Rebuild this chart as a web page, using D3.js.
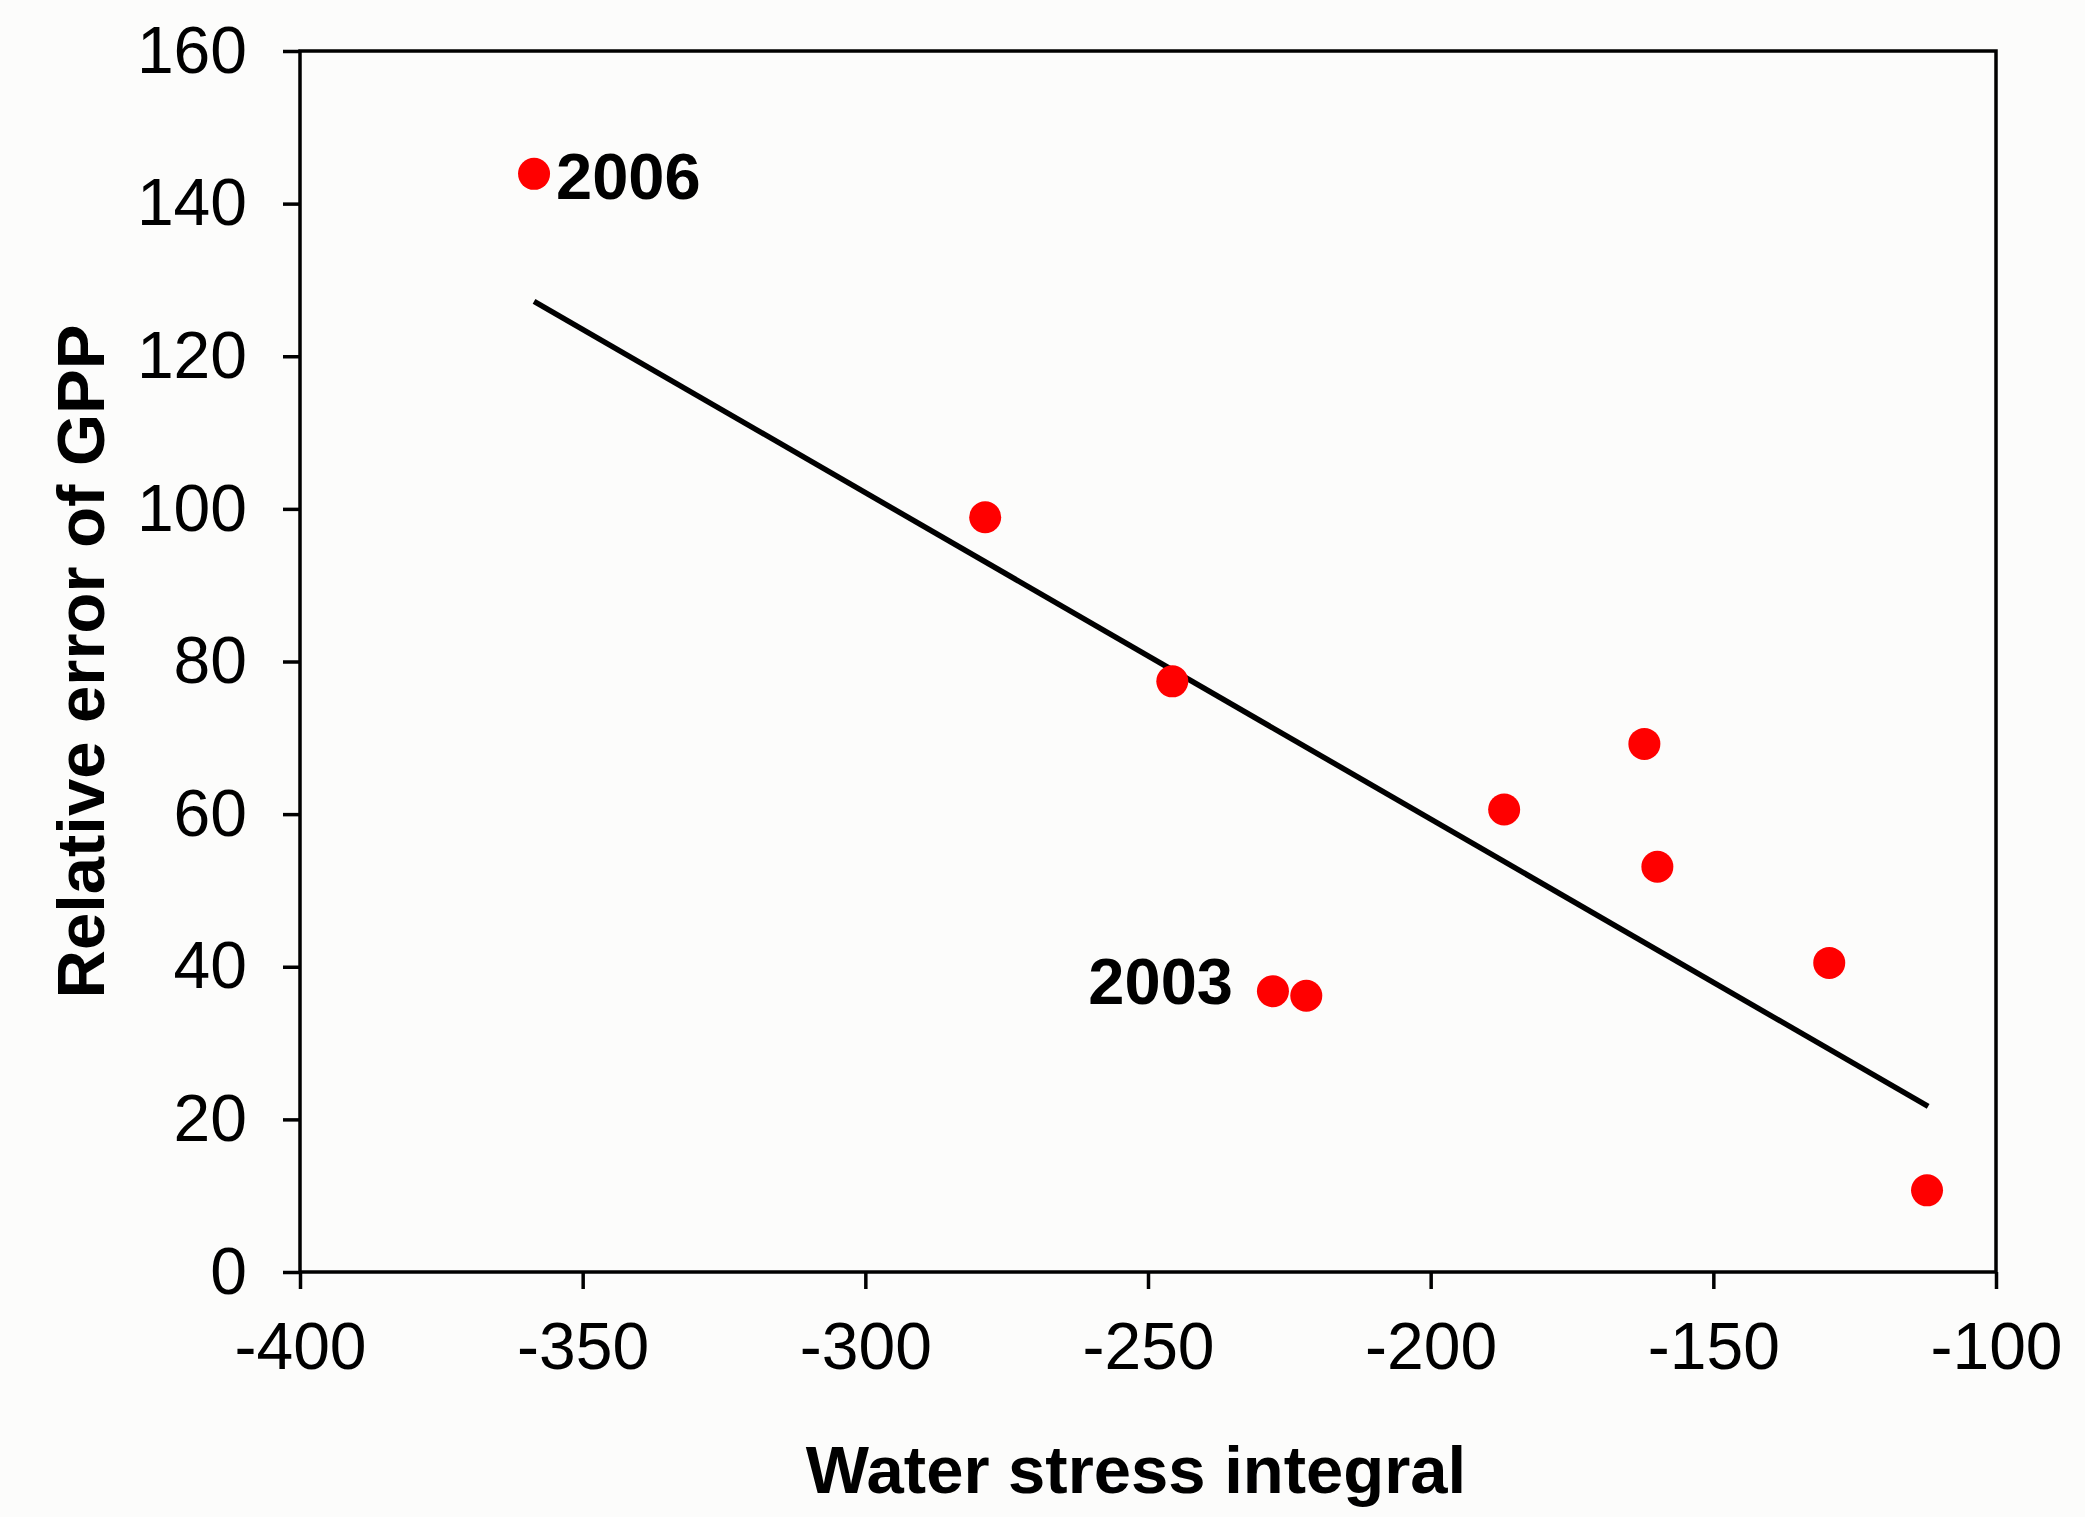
<!DOCTYPE html>
<meta charset="utf-8">
<style>
	body { margin: 0; background: #fcfcfb; }
	text { font-family: Arial, "Liberation Sans", sans-serif; fill: #000; }
	.tick text { font-size: 66px; }
	.title { font-size: 67px; font-weight: bold; }
	.note { font-size: 65px; font-weight: bold; }
</style>
<body>
<script src="https://d3js.org/d3.v7.min.js"></script>
<script>
// water stress integral (x) and relative error of GPP (y)
var stress = [-358.6, -278.8, -245.7, -227.9, -222.0, -187.0, -162.2, -159.9, -129.5, -112.2];
var relErr = [143.9, 98.9, 77.4, 36.8, 36.2, 60.6, 69.2, 53.1, 40.5, 10.7];

// regression line end points
var fitX = [-358.6, -112.0];
var fitY = [127.2, 21.7];

// labelled years
var years = ["2006", "2003"];
var yearIdx = [0, 3];

var xTicks = [-400, -350, -300, -250, -200, -150, -100];
var yTicks = [0, 20, 40, 60, 80, 100, 120, 140, 160];

var margin = {top: 51, right: 89, bottom: 245, left: 300},
    width = 2085 - margin.left - margin.right,
    height = 1517 - margin.top - margin.bottom;

var x = d3.scaleLinear().domain([-400, -100]).range([0, width]);
var y = d3.scaleLinear().domain([0, 160]).range([height, 0]);

var svg = d3.select("body").append("svg")
    .attr("width", 2085)
    .attr("height", 1517)
  .append("g")
    .attr("transform", "translate(" + margin.left + "," + margin.top + ")");

// axes
svg.append("g")
    .attr("transform", "translate(0," + height + ")")
    .call(d3.axisBottom(x).tickValues(xTicks).tickFormat(function(d) { return String(d); })
        .tickSize(17).tickSizeOuter(0).tickPadding(33));

svg.append("g")
    .call(d3.axisLeft(y).tickValues(yTicks).tickFormat(function(d) { return String(d); })
        .tickSize(17).tickSizeOuter(0).tickPadding(36));

svg.selectAll(".domain").remove();
svg.selectAll(".tick line").attr("stroke", "#000").attr("stroke-width", 3.5);

// frame
svg.append("rect")
    .attr("width", width)
    .attr("height", height)
    .attr("fill", "none")
    .attr("stroke", "#000")
    .attr("stroke-width", 3.5);

// fitted line
svg.append("line")
    .attr("x1", x(fitX[0])).attr("y1", y(fitY[0]))
    .attr("x2", x(fitX[1])).attr("y2", y(fitY[1]))
    .attr("stroke", "#000")
    .attr("stroke-width", 5.5);

// points
svg.selectAll(".dot")
    .data(stress)
    .enter().append("circle")
    .attr("class", "dot")
    .attr("cx", function(d) { return x(d); })
    .attr("cy", function(d, i) { return y(relErr[i]); })
    .attr("r", 16)
    .attr("fill", "#ff0000");

// year labels
svg.append("text")
    .attr("class", "note")
    .attr("x", x(stress[yearIdx[0]]) + 22)
    .attr("y", y(relErr[yearIdx[0]]) + 25)
    .text(years[0]);

svg.append("text")
    .attr("class", "note")
    .attr("text-anchor", "end")
    .attr("x", x(stress[yearIdx[1]]) - 40)
    .attr("y", y(relErr[yearIdx[1]]) + 13)
    .text(years[1]);

// axis titles
svg.append("text")
    .attr("class", "title")
    .attr("text-anchor", "middle")
    .attr("x", width / 2 - 12)
    .attr("y", height + 221)
    .text("Water stress integral");

svg.append("text")
    .attr("class", "title")
    .attr("text-anchor", "middle")
    .attr("transform", "translate(" + (-196) + "," + (height / 2) + ") rotate(-90)")
    .text("Relative error of GPP");
</script>
</body>
